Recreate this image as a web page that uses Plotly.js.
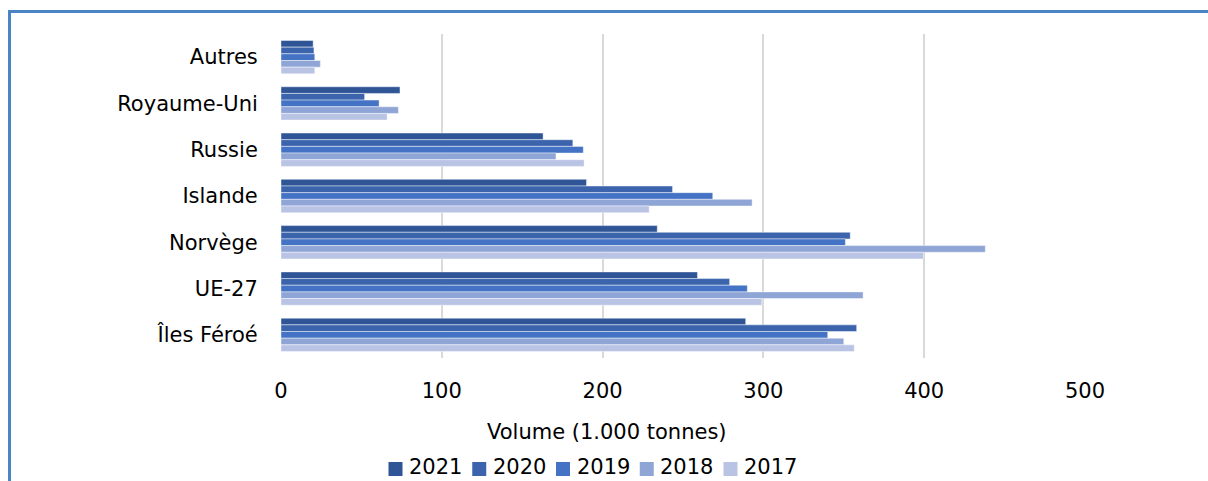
<!DOCTYPE html>
<html>
<head>
<meta charset="utf-8">
<script src="https://cdn.plot.ly/plotly-3.0.1.min.js"></script>
<style>
html,body{margin:0;padding:0;background:#fff;}
#chart{width:1208px;height:481px;}
</style>
</head>
<body>
<div id="chart"></div>
<script>
const categories = ["Autres", "Royaume-Uni", "Russie", "Islande", "Norvège", "UE-27", "Îles Féroé"];
const years = ["2021", "2020", "2019", "2018", "2017"];
const v2021 = [20, 74, 163, 190, 234, 259, 289];
const v2020 = [20.5, 52, 181.5, 243.5, 354, 279, 358];
const v2019 = [21, 61, 188, 268.5, 351, 290, 340];
const v2018 = [24.5, 73, 171, 293, 438, 362, 350];
const v2017 = [21, 66, 188.5, 229, 399.5, 299, 356.5];
const seriesValues = [v2021, v2020, v2019, v2018, v2017];
const colors = ["#2F5597", "#3B64AD", "#4472C4", "#8FA5D6", "#B9C3E4"];
const xTicks = [0, 100, 200, 300, 400, 500];
const axisTitle = "Volume (1.000 tonnes)";

const FONT = "DejaVu Sans, Noto Sans, sans-serif";

const traces = years.map((y, i) => ({
  type: "bar",
  orientation: "h",
  name: y,
  x: seriesValues[i],
  y: categories,
  marker: {color: colors[i], line: {color: "rgba(255,255,255,0.55)", width: 0.8}},
  hoverinfo: "x+name",
  showlegend: false
}));

const L = 281, R = 1085, T = 34, B = 358, W = 1208, H = 481;
const px = x => (x - L) / (R - L);
const py = y => (B - y) / (B - T);

// Legend drawn as swatches + text (Excel-style tight legend)
const legendShapes = [];
const legendTexts = [];
const LEG_X0 = 395.5, LEG_PITCH = 83.75, LEG_Y = 469, SW = 7;
years.forEach((y, i) => {
  const cx = LEG_X0 + LEG_PITCH * i;
  legendShapes.push({
    type: "rect", xref: "paper", yref: "paper",
    x0: px(cx - SW), x1: px(cx + SW), y0: py(LEG_Y + SW), y1: py(LEG_Y - SW),
    fillcolor: colors[i], line: {width: 0}
  });
  legendTexts.push({
    text: y, xref: "paper", yref: "paper",
    x: px(cx + 11.5), y: py(467), xanchor: "left", yanchor: "middle",
    showarrow: false, font: {family: FONT, size: 21, color: "#000"}
  });
});

const layout = {
  width: W, height: H,
  margin: {l: L, r: W - R, t: T, b: H - B, autoexpand: false},
  paper_bgcolor: "#fff", plot_bgcolor: "#fff",
  font: {family: FONT, size: 21, color: "#000"},
  barmode: "group",
  bargap: 0.28,
  bargroupgap: 0,
  showlegend: false,
  xaxis: {
    range: [0, 500], tickvals: xTicks, ticktext: xTicks.map(String),
    showgrid: true, gridcolor: "#D9D9D9", gridwidth: 2,
    zeroline: false, showline: false,
    ticks: "outside", ticklen: 14, tickcolor: "rgba(0,0,0,0)",
    tickfont: {family: FONT, size: 21, color: "#000"},
    fixedrange: true
  },
  yaxis: {
    type: "category", autorange: "reversed",
    showgrid: false, zeroline: false, showline: false,
    ticks: "outside", ticklen: 18, tickcolor: "rgba(0,0,0,0)",
    tickfont: {family: FONT, size: 21, color: "#000"},
    fixedrange: true
  },
  annotations: [{
    text: axisTitle, xref: "paper", yref: "paper",
    x: px(607), y: py(432), xanchor: "center", yanchor: "middle",
    showarrow: false, font: {family: FONT, size: 21, color: "#000"}
  }].concat(legendTexts),
  shapes: [{
    type: "rect", xref: "paper", yref: "paper",
    x0: px(9.5), x1: px(1230), y0: py(11.5), y1: py(520),
    line: {color: "#4A84C4", width: 3}, fillcolor: "rgba(0,0,0,0)", layer: "above"
  }].concat(legendShapes)
};

Plotly.newPlot("chart", traces, layout, {displayModeBar: false, staticPlot: true});
</script>
</body>
</html>
